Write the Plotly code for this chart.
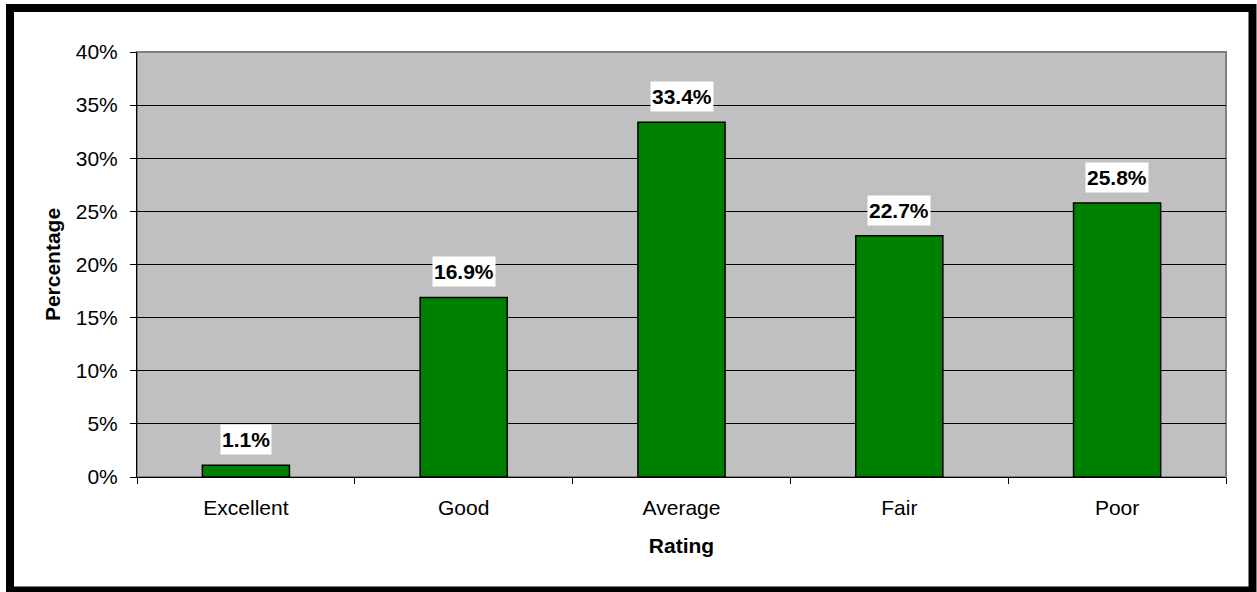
import plotly.graph_objects as go

categories = ["Excellent", "Good", "Average", "Fair", "Poor"]
percentages = [1.1, 16.9, 33.4, 22.7, 25.8]
y_ticks = [0, 5, 10, 15, 20, 25, 30, 35, 40]

W, H = 1257, 592
L, R, T, B = 137, 31, 52, 115
PW, PH = W - L - R, H - T - B

def px2paper_x(px):
    return (px - L) / PW

def px2paper_y(py):
    return (H - B - py) / PH

FONT = "Arial, Liberation Sans, sans-serif"
FS = 21

fig = go.Figure()
fig.add_trace(go.Bar(
    x=categories,
    y=percentages,
    marker=dict(color="#008000", line=dict(color="#000000", width=1.5)),
    hoverinfo="x+y",
))

for c, v in zip(categories, percentages):
    fig.add_annotation(
        x=c, y=v, xref="x", yref="y",
        text=f"<b>{v:.1f}%</b>",
        showarrow=False,
        yanchor="bottom", yshift=10,
        bgcolor="#FFFFFF", borderpad=1, height=27,
        font=dict(family=FONT, size=FS, color="#000000"),
    )

# plot-area frame (gray) and outer chart border (black)
fig.add_shape(type="rect", xref="paper", yref="paper", x0=0, y0=0, x1=1, y1=1,
              line=dict(color="#808080", width=2), layer="below")
fig.add_shape(type="rect", xref="paper", yref="paper",
              x0=px2paper_x(10), x1=px2paper_x(1252.5),
              y0=px2paper_y(590.5), y1=px2paper_y(8),
              line=dict(color="#000000", width=8))

fig.update_layout(
    width=W, height=H,
    margin=dict(l=L, r=R, t=T, b=B),
    paper_bgcolor="#FFFFFF",
    plot_bgcolor="#C0C0C0",
    bargap=0.6,
    showlegend=False,
    font=dict(family=FONT, size=FS, color="#000000"),
)
fig.update_xaxes(
    type="category",
    tickson="boundaries",
    ticks="outside", ticklen=6, tickcolor="#000000", tickwidth=1,
    showline=True, linecolor="#000000", linewidth=1,
    showgrid=False,
    ticklabelstandoff=12,
    tickfont=dict(family=FONT, size=FS),
    title=dict(text="<b>Rating</b>", font=dict(family=FONT, size=FS), standoff=20),
    automargin=False,
)
fig.update_yaxes(
    range=[0, 40],
    tickvals=y_ticks,
    ticktext=[f"{t}%" for t in y_ticks],
    ticks="outside", ticklen=6, tickcolor="#000000", tickwidth=1,
    showline=True, linecolor="#000000", linewidth=1,
    showgrid=True, gridcolor="#000000", gridwidth=1,
    zeroline=False,
    ticklabelstandoff=8,
    tickfont=dict(family=FONT, size=FS),
    title=dict(text="<b>Percentage</b>", font=dict(family=FONT, size=FS), standoff=9),
    automargin=False,
)

fig.write_html("out.html", config={"displayModeBar": False},
               post_script="document.body.style.margin='0';")
